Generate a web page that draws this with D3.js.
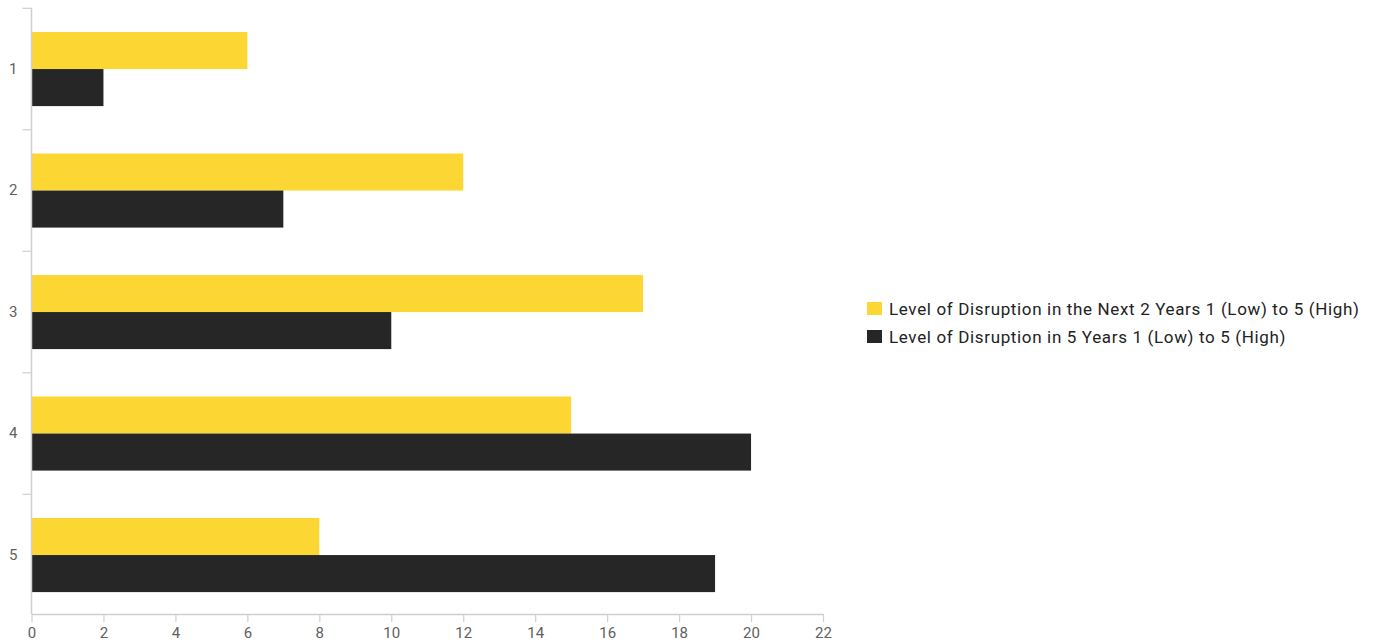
<!DOCTYPE html>
<html>
<head>
<meta charset="utf-8">
<script src="https://cdn.jsdelivr.net/npm/d3@7"></script>
<style>
  html, body { margin: 0; padding: 0; background: #fff; }
  svg { display: block; font-family: Roboto, "Noto Sans", sans-serif; }
</style>
</head>
<body>
<svg id="chart" width="1377" height="643"></svg>
<script>
// Disruption level ratings (1 = low, 5 = high) and response counts
const categories = ["1", "2", "3", "4", "5"];
const seriesNames = [
  "Level of Disruption in the Next 2 Years 1 (Low) to 5 (High)",
  "Level of Disruption in 5 Years 1 (Low) to 5 (High)"
];
const nextTwoYears = [6, 12, 17, 15, 8];
const inFiveYears = [2, 7, 10, 20, 19];
const xTicks = [0, 2, 4, 6, 8, 10, 12, 14, 16, 18, 20, 22];
const colors = ["#fcd734", "#262626"];

const rows = categories.map((c, i) => ({
  category: c,
  values: [nextTwoYears[i], inFiveYears[i]]
}));

const svg = d3.select("#chart");
const plotLeft = 31.5, plotRight = 823, plotTop = 8, plotBottom = 614;

const x = d3.scaleLinear().domain([0, 22]).range([plotLeft, plotRight]);
const y = d3.scaleBand().domain(categories).range([8.3, 615.8]).padding(0);
const inner = d3.scaleBand().domain([0, 1]).range([0, y.bandwidth()])
  .paddingInner(0).paddingOuter(0.64);

const axisColor = "#cfcfcf";
const labelColor = "#5f5f5f";

// Bars
const groups = svg.append("g").selectAll("g").data(rows).join("g")
  .attr("transform", d => `translate(0,${y(d.category)})`);
groups.selectAll("rect").data(d => d.values).join("rect")
  .attr("x", x(0) + 0.5)
  .attr("y", (d, i) => inner(i))
  .attr("height", inner.bandwidth())
  .attr("width", d => x(d) - x(0) - 0.5)
  .attr("fill", (d, i) => colors[i]);

// X axis
const xAxis = svg.append("g")
  .attr("transform", `translate(0,${plotBottom})`)
  .attr("font-size", 15)
  .call(d3.axisBottom(x).tickValues(xTicks).tickSize(8).tickSizeOuter(0).tickPadding(5));
xAxis.attr("font-size", 15).attr("font-family", "Roboto, sans-serif");
xAxis.select(".domain").attr("stroke", axisColor).attr("stroke-width", 1.5);
xAxis.selectAll(".tick line").attr("stroke", axisColor).attr("stroke-width", 1.2);
xAxis.selectAll(".tick text").attr("fill", labelColor).style("font-size", "15px");

// Y axis: labels centred on each band, ticks at band boundaries
const yAxis = svg.append("g")
  .attr("transform", `translate(${plotLeft},0)`)
  .call(d3.axisLeft(y).tickSize(0).tickPadding(14));
yAxis.attr("font-size", 15).attr("font-family", "Roboto, sans-serif");
yAxis.select(".domain").remove();
yAxis.selectAll(".tick text").attr("fill", labelColor).style("font-size", "15px");

svg.append("line")
  .attr("x1", plotLeft).attr("x2", plotLeft)
  .attr("y1", plotTop).attr("y2", plotBottom)
  .attr("stroke", axisColor).attr("stroke-width", 1.5);

const boundaries = categories.map(c => y(c));
svg.append("g").selectAll("line").data(boundaries).join("line")
  .attr("x1", plotLeft - 9).attr("x2", plotLeft)
  .attr("y1", d => d).attr("y2", d => d)
  .attr("stroke", axisColor).attr("stroke-width", 1.2);

// Legend
const legend = svg.append("g").attr("transform", "translate(867,302)");
const items = legend.selectAll("g").data(seriesNames).join("g")
  .attr("transform", (d, i) => `translate(0,${i * 28})`);
items.append("rect")
  .attr("width", 15).attr("height", 13)
  .attr("fill", (d, i) => colors[i]);
items.append("text")
  .attr("x", 22).attr("y", 12.5)
  .attr("font-size", 17).attr("letter-spacing", 0.65).attr("fill", "#222")
  .text(d => d);
</script>
</body>
</html>
